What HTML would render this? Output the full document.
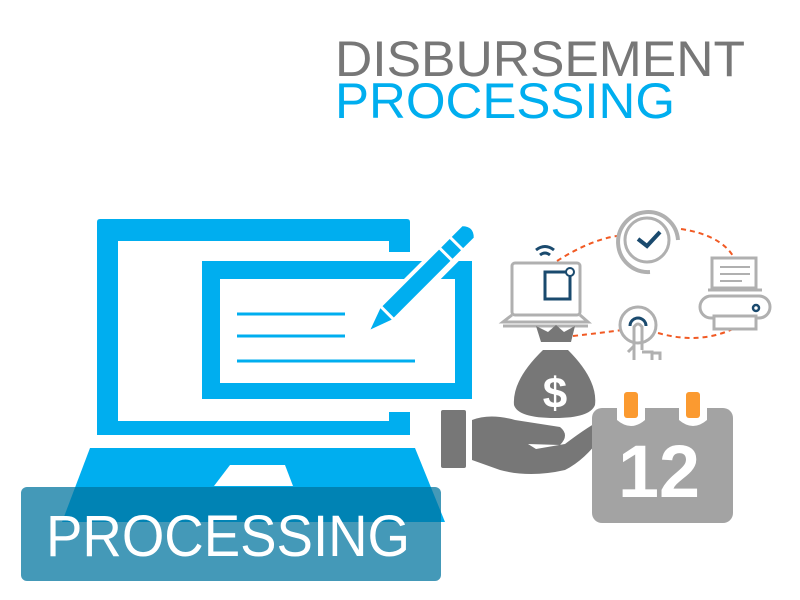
<!DOCTYPE html>
<html><head><meta charset="utf-8"><style>html,body{margin:0;padding:0;background:#fff}svg{display:block}</style></head>
<body>
<svg width="800" height="600" viewBox="0 0 800 600" xmlns="http://www.w3.org/2000/svg">
<rect width="800" height="600" fill="#fff"/>
<text x="335" y="76" font-family="Liberation Sans, sans-serif" font-size="50" fill="#777" textLength="410" lengthAdjust="spacingAndGlyphs">DISBURSEMENT</text>
<text x="335" y="118" font-family="Liberation Sans, sans-serif" font-size="50" fill="#00aeef" textLength="340" lengthAdjust="spacingAndGlyphs">PROCESSING</text>
<!-- monitor -->
<path d="M97 222 Q97 219 100 219 L407 219 Q410 219 410 222 L410 252 L389 252 L389 241 L118 241 L118 421 L389 421 L389 412 L410 412 L410 435 L97 435 Z" fill="#00aeef"/>
<path d="M202 261 L472 261 L472 399 L202 399 Z M220 279 L220 383 L455 383 L455 279 Z" fill="#00aeef" fill-rule="evenodd"/>
<line x1="237" y1="314" x2="345" y2="314" stroke="#00aeef" stroke-width="3"/>
<line x1="237" y1="336" x2="345" y2="336" stroke="#00aeef" stroke-width="3"/>
<line x1="237" y1="361" x2="415" y2="361" stroke="#00aeef" stroke-width="3"/>
<!-- pencil -->
<g transform="rotate(-45 420 280)">
<rect x="332" y="268" width="160" height="26" fill="#fff"/>
<rect x="375" y="272" width="80" height="16" fill="#00aeef"/>
<rect x="458" y="272" width="12" height="16" fill="#00aeef"/>
<path d="M473 272 L488 272 Q496 280 488 288 L473 288 Z" fill="#00aeef"/>
<path d="M372 272 L372 288 L350 280 Z" fill="#00aeef"/>
</g>
<!-- base -->
<path d="M90 448 L415 448 L445 522 L62 522 Z" fill="#00aeef"/>
<path d="M230 465 L285 465 L293 486 L214 486 Z" fill="#fff"/>
<rect x="21" y="487" width="420" height="94" rx="6" fill="#00749e" fill-opacity="0.733"/>
<text x="46" y="556" font-family="Liberation Sans, sans-serif" font-size="58" fill="#fff" textLength="364" lengthAdjust="spacingAndGlyphs">PROCESSING</text>
<!-- dashed connectors -->
<path d="M557 261 Q590 240 617 236" fill="none" stroke="#f15a24" stroke-width="2" stroke-dasharray="5 4"/>
<path d="M681 229 Q720 235 733 256" fill="none" stroke="#f15a24" stroke-width="2" stroke-dasharray="5 4"/>
<path d="M573 336 Q600 333 622 330" fill="none" stroke="#f15a24" stroke-width="2" stroke-dasharray="5 4"/>
<path d="M658 333 Q700 345 735 328" fill="none" stroke="#f15a24" stroke-width="2" stroke-dasharray="5 4"/>
<!-- clock -->
<path d="M650 272 A30 30 0 1 1 678 240" fill="none" stroke="#b0b0b0" stroke-width="4"/>
<circle cx="647" cy="240" r="22" fill="none" stroke="#b0b0b0" stroke-width="3"/>
<path d="M638 239 L647 246 L660 232" fill="none" stroke="#1a4a6e" stroke-width="4"/>
<!-- laptop -->
<rect x="512" y="263" width="68" height="52" rx="3" fill="none" stroke="#b0b0b0" stroke-width="3"/>
<path d="M512 315 L503 322 L588 322 L580 315" fill="none" stroke="#b0b0b0" stroke-width="3"/>
<line x1="503" y1="326" x2="588" y2="326" stroke="#b0b0b0" stroke-width="3"/>
<rect x="545" y="272" width="25" height="27" fill="none" stroke="#1a4a6e" stroke-width="3"/>
<circle cx="570" cy="272" r="4" fill="#fff" stroke="#1a4a6e" stroke-width="2"/>
<path d="M536 250 Q545 243 554 250 M540 255 Q545 251 550 255" fill="none" stroke="#1a4a6e" stroke-width="3"/>
<!-- printer -->
<rect x="712" y="258" width="44" height="30" fill="none" stroke="#b0b0b0" stroke-width="3"/>
<line x1="720" y1="267" x2="750" y2="267" stroke="#b0b0b0" stroke-width="2"/>
<line x1="720" y1="274" x2="750" y2="274" stroke="#b0b0b0" stroke-width="2"/>
<line x1="720" y1="281" x2="742" y2="281" stroke="#b0b0b0" stroke-width="2"/>
<line x1="708" y1="290" x2="762" y2="290" stroke="#b0b0b0" stroke-width="3"/>
<rect x="700" y="296" width="70" height="22" rx="11" fill="none" stroke="#b0b0b0" stroke-width="3"/>
<rect x="714" y="316" width="42" height="13" fill="#fff" stroke="#b0b0b0" stroke-width="3"/>
<circle cx="756" cy="308" r="3" fill="none" stroke="#1a4a6e" stroke-width="2.5"/>
<!-- touch -->
<circle cx="638" cy="325" r="18" fill="none" stroke="#b0b0b0" stroke-width="3"/>
<path d="M630 326 A8 8 0 0 1 646 326" fill="none" stroke="#1a4a6e" stroke-width="3"/>
<path d="M634 360 L634 327 Q638 321 642 327 L642 350 M642 352 L652 352 L652 360 M652 353 L660 353 L660 360 M628 352 L634 346" fill="none" stroke="#b0b0b0" stroke-width="3"/>
<!-- money bag -->
<path d="M536 326 L548 332 L556 325 L564 332 L575 326 L571 342 L541 342 Z" fill="#777"/>
<path d="M543 350 L568 350 Q598 380 595 405 Q590 418 555 418 Q518 418 514 405 Q512 380 543 350 Z" fill="#777"/>
<text x="555" y="408" text-anchor="middle" font-family="Liberation Sans, sans-serif" font-weight="bold" font-size="44" fill="#fff">$</text>
<!-- hand -->
<rect x="441" y="410" width="25" height="58" rx="2" fill="#777"/>
<path d="M472 420 Q490 413 515 420 L560 427 Q570 435 560 445 L528 444 L536 449 L565 444 Q590 425 605 418 Q612 425 602 436 Q585 460 565 470 Q530 478 500 470 L472 460 Z" fill="#777"/>
<!-- calendar -->
<rect x="592" y="408" width="141" height="115" rx="10" fill="#a3a3a3"/>
<path d="M617 408 L645 408 L645 420 Q631 432 617 420 Z" fill="#fff"/>
<path d="M679 408 L707 408 L707 420 Q693 432 679 420 Z" fill="#fff"/>
<rect x="624" y="392" width="14" height="26" rx="3" fill="#fb9a30"/>
<rect x="686" y="392" width="14" height="26" rx="3" fill="#fb9a30"/>
<text x="659" y="497" text-anchor="middle" font-family="Liberation Sans, sans-serif" font-weight="bold" font-size="74" fill="#fff" textLength="82" lengthAdjust="spacingAndGlyphs">12</text>
</svg>
</body></html>
